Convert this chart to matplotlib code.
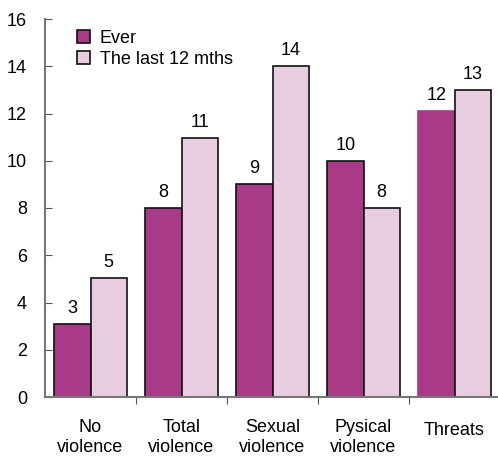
import matplotlib
matplotlib.use("Agg")
import matplotlib.pyplot as plt
import numpy as np
from matplotlib.patches import Patch

plt.rcParams['font.family'] = ['Liberation Sans', 'DejaVu Sans']

categories = ["No\nviolence", "Total\nviolence", "Sexual\nviolence", "Pysical\nviolence", "Threats"]
ever = [3.1, 8, 9, 10, 12.1]
last12 = [5.05, 10.95, 14, 8, 13]
ever_labels = ["3", "8", "9", "10", "12"]
last12_labels = ["5", "11", "14", "8", "13"]
series_names = ["Ever", "The last 12 mths"]

c_ever = "#A93A87"
c_last = "#E8CCE0"
FS = 13

fig = plt.figure(figsize=(4.98, 4.57), dpi=100)
ax = fig.add_axes([45/498, 1-397/457, 455/498, (397-19)/457])

x = np.arange(len(categories))
w = 0.4
b1 = ax.bar(x - w/2, ever, w, color=c_ever, edgecolor="#111111", linewidth=1.2)
b2 = ax.bar(x + w/2, last12, w, color=c_last, edgecolor="#111111", linewidth=1.2)
b1[-1].set_edgecolor(c_ever)

for xi, v, t in zip(x, ever, ever_labels):
    ax.text(xi - w/2, v + 0.3, t, ha="center", va="bottom", fontsize=FS)
for xi, v, t in zip(x, last12, last12_labels):
    ax.text(xi + w/2, v + 0.3, t, ha="center", va="bottom", fontsize=FS)

ax.set_xlim(-0.5, 4.5)
ax.set_ylim(0, 16)
ax.set_yticks(np.arange(0, 17, 2))
ax.tick_params(axis="y", direction="in", length=5, color="#555555", labelsize=FS, pad=13)
ax.set_xticks(np.arange(0.5, 4.0, 1.0))
ax.set_xticklabels([])
ax.tick_params(axis="x", direction="out", length=5, color="#555555")

for xi, c in zip(x, categories):
    yc = -1.7 if "\n" in c else -1.4
    ax.text(xi, yc, c, ha="center", va="center", fontsize=FS,
            linespacing=1.25, clip_on=False)

for s in ["top", "right"]:
    ax.spines[s].set_visible(False)
ax.spines["left"].set_color("#777777")
ax.spines["left"].set_linewidth(1.5)
ax.spines["bottom"].set_color("#777777")
ax.spines["bottom"].set_linewidth(1.5)

handles = [Patch(facecolor=c_ever, edgecolor="#111111", linewidth=1.2),
           Patch(facecolor=c_last, edgecolor="#111111", linewidth=1.2)]
ax.legend(handles, series_names, loc="upper left", bbox_to_anchor=(0.055, 0.99),
          frameon=False, fontsize=FS, handlelength=0.7, handleheight=0.7,
          handletextpad=0.55, labelspacing=0.2, borderaxespad=0)

fig.savefig("out.png", dpi=100)
